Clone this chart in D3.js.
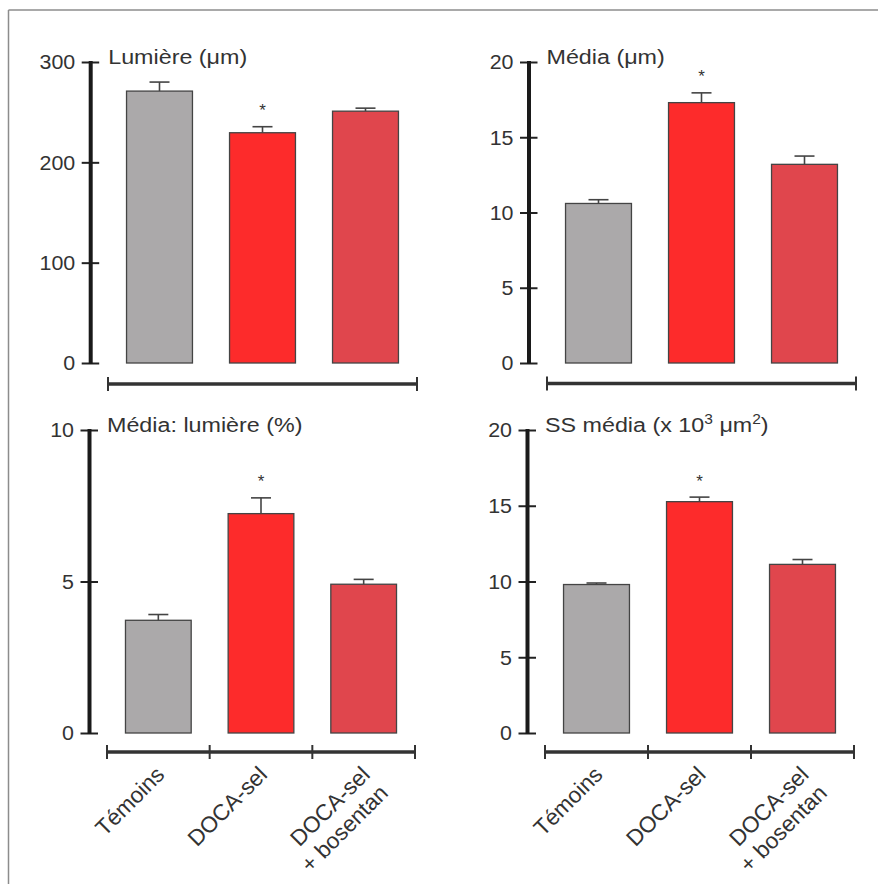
<!DOCTYPE html>
<html>
<head>
<meta charset="utf-8">
<script src="https://cdn.jsdelivr.net/npm/d3@7"></script>
<style>
  html, body { margin: 0; padding: 0; background: #fff; }
  svg { display: block; }
  text { font-family: "Liberation Sans", Arial, Helvetica, sans-serif; fill: #333; }
</style>
</head>
<body>
<svg id="chart" width="878" height="884"></svg>
<script>
// ---- Data ----
const categories = ["Témoins", "DOCA-sel", "DOCA-sel|+ bosentan"];
const barColors = ["#aba9aa", "#fd2b2b", "#e0464d"];

const lumiereValues = [271, 229.5, 251];
const lumiereErrors = [9, 6, 3];
const lumiereTicks = [0, 100, 200, 300];
const lumiereSignif = [false, true, false];

const mediaValues = [10.6, 17.3, 13.2];
const mediaErrors = [0.25, 0.65, 0.55];
const mediaTicks = [0, 5, 10, 15, 20];
const mediaSignif = [false, true, false];

const ratioValues = [3.72, 7.24, 4.91];
const ratioErrors = [0.19, 0.52, 0.16];
const ratioTicks = [0, 5, 10];
const ratioSignif = [false, true, false];

const ssValues = [9.8, 15.27, 11.13];
const ssErrors = [0.1, 0.3, 0.32];
const ssTicks = [0, 5, 10, 15, 20];
const ssSignif = [false, true, false];

// ---- Layout ----
const svg = d3.select("#chart");
const SX = 1.11; // horizontal stretch of the reference typography

// frame
svg.append("line").attr("x1", 8.5).attr("y1", 10).attr("x2", 878).attr("y2", 10)
  .attr("stroke", "#8c8c8c").attr("stroke-width", 1.5);
svg.append("line").attr("x1", 8.5).attr("y1", 10).attr("x2", 8.5).attr("y2", 884)
  .attr("stroke", "#8c8c8c").attr("stroke-width", 1.5);

const panels = [
  { title: [{t: "Lumière (μm)"}], values: lumiereValues, errors: lumiereErrors, ticks: lumiereTicks, signif: lumiereSignif,
    axisX: 90.7, yTop: 62, y0: 363, xL: 108, xR: 417, xAxisY: 384, labels: false },
  { title: [{t: "Média (μm)"}], values: mediaValues, errors: mediaErrors, ticks: mediaTicks, signif: mediaSignif,
    axisX: 529, yTop: 62, y0: 363, xL: 547, xR: 856, xAxisY: 383.5, labels: false },
  { title: [{t: "Média: lumière (%)"}], values: ratioValues, errors: ratioErrors, ticks: ratioTicks, signif: ratioSignif,
    axisX: 89.5, yTop: 430, y0: 733, xL: 107, xR: 415, xAxisY: 752, labels: true },
  { title: [{t: "SS média (x 10"}, {t: "3", sup: true}, {t: " μm"}, {t: "2", sup: true}, {t: ")"}],
    values: ssValues, errors: ssErrors, ticks: ssTicks, signif: ssSignif,
    axisX: 527.5, yTop: 430, y0: 733, xL: 545, xR: 854, xAxisY: 752, labels: true }
];

panels.forEach(p => {
  const g = svg.append("g");
  const maxV = p.ticks[p.ticks.length - 1];
  const y = d3.scaleLinear().domain([0, maxV]).range([p.y0, p.yTop]);
  const x = d3.scaleBand().domain(categories).range([p.xL, p.xR]).paddingInner(0.36).paddingOuter(0.18);

  // bars
  g.selectAll("rect.bar").data(categories).enter().append("rect")
    .attr("x", d => x(d))
    .attr("width", x.bandwidth())
    .attr("y", (d, i) => y(p.values[i]))
    .attr("height", (d, i) => y(0) - y(p.values[i]))
    .attr("fill", (d, i) => barColors[i])
    .attr("stroke", "#444").attr("stroke-width", 1.3);

  // error bars
  categories.forEach((c, i) => {
    const cx = x(c) + x.bandwidth() / 2;
    const top = y(p.values[i] + p.errors[i]);
    g.append("line").attr("x1", cx).attr("x2", cx).attr("y1", y(p.values[i])).attr("y2", top)
      .attr("stroke", "#444").attr("stroke-width", 1.6);
    g.append("line").attr("x1", cx - 10).attr("x2", cx + 10).attr("y1", top).attr("y2", top)
      .attr("stroke", "#444").attr("stroke-width", 1.6);
    if (p.signif[i]) {
      g.append("text").attr("x", cx).attr("y", top - 10.5).attr("text-anchor", "middle")
        .attr("font-size", 17).text("*");
    }
  });

  // y axis
  const yAxis = d3.axisLeft(y).tickValues(p.ticks).tickSize(9).tickPadding(6).tickFormat(d3.format("d"));
  const ya = g.append("g").attr("transform", `translate(${p.axisX},0)`).call(yAxis);
  ya.select(".domain").remove();
  ya.attr("font-size", null).attr("font-family", null);
  ya.selectAll(".tick line").attr("x2", -9).attr("x1", 8.5).attr("stroke", "#222").attr("stroke-width", 2);
  ya.selectAll(".tick text").attr("font-size", 19.3).attr("fill", "#333")
    .attr("x", -15.5 / SX).attr("dy", "0.35em").attr("transform", `scale(${SX},1)`);
  g.append("line").attr("x1", p.axisX).attr("x2", p.axisX).attr("y1", p.yTop - 1).attr("y2", p.y0 + 1)
    .attr("stroke", "#1a1a1a").attr("stroke-width", 4);

  // x axis
  g.append("line").attr("x1", p.xL).attr("x2", p.xR).attr("y1", p.xAxisY).attr("y2", p.xAxisY)
    .attr("stroke", "#333").attr("stroke-width", 3.5);
  const step = x.step();
  const tickPos = p.labels ? [0, 1, 2, 3].map(k => p.xL + k * step) : [p.xL, p.xR];
  tickPos.forEach(tx => {
    g.append("line").attr("x1", tx).attr("x2", tx).attr("y1", p.xAxisY - 7).attr("y2", p.xAxisY + 7)
      .attr("stroke", "#333").attr("stroke-width", 2);
  });

  if (p.labels) {
    categories.forEach(c => {
      const cx = x(c) + x.bandwidth() / 2;
      const lines = c.split("|");
      const t = g.append("text")
        .attr("transform", `translate(${cx + 7.5},${p.xAxisY + 24}) rotate(-45)`)
        .attr("text-anchor", "end").attr("font-size", 22.5);
      lines.forEach((ln, k) => {
        t.append("tspan").attr("x", 0).attr("dy", k === 0 ? 0 : "1.15em").text(ln);
      });
    });
  }

  // title
  const tt = g.append("text")
    .attr("transform", `translate(${p.axisX + 17.5},${p.yTop + 1.5}) scale(${SX},1)`)
    .attr("font-size", 21);
  p.title.forEach(part => {
    const s = tt.append("tspan").text(part.t);
    if (part.sup) s.attr("font-size", 14).attr("baseline-shift", "super");
  });
});
</script>
</body>
</html>
